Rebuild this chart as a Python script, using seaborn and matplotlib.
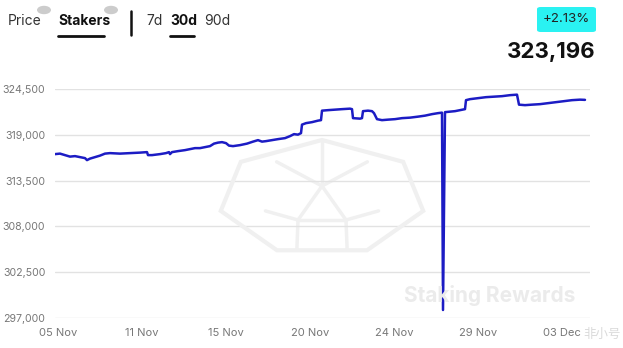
import numpy as np
import pandas as pd
import matplotlib
matplotlib.use("Agg")
import matplotlib.pyplot as plt
import seaborn as sns
from matplotlib.patches import FancyBboxPatch, RegularPolygon

# ---- data ----
position = [0, 5, 10, 15, 20, 25, 30, 32, 35, 40, 45, 50, 55, 65, 75, 85, 92, 93, 97, 105,
            111, 114, 115, 117, 123, 130, 135, 140, 145, 150, 155, 159, 163, 167, 171, 174, 178,
            185, 192, 198, 203, 207, 211, 217, 223, 230, 235, 239, 243, 246, 247, 251, 257, 263,
            266, 267, 273, 280, 287, 295, 297, 298, 305, 307, 308, 313, 317, 319, 322, 327, 333,
            340, 347, 355, 363, 370, 377, 383, 387, 388, 390, 395, 400, 405, 410, 411, 415, 423,
            431, 439, 447, 455, 462, 464, 470, 477, 485, 493, 501, 509, 517, 525, 530]
stakers = [316680, 316740, 316560, 316380, 316440, 316320, 316200, 315960, 316140, 316320,
           316500, 316740, 316800, 316740, 316800, 316860, 316920, 316560, 316560, 316680,
           316800, 316920, 316680, 316920, 317040, 317160, 317280, 317400, 317400, 317520,
           317640, 317940, 318060, 318120, 318000, 317700, 317640, 317760, 317940, 318180,
           318360, 318180, 318240, 318360, 318480, 318600, 318840, 319080, 319020, 319200,
           320220, 320400, 320520, 320700, 320760, 321900, 321960, 322020, 322080, 322140,
           322080, 321000, 320940, 321000, 321840, 321900, 321840, 321600, 320880, 320760,
           320820, 320880, 321000, 321060, 321180, 321300, 321480, 321600, 321660, 297960,
           321720, 321780, 321840, 321960, 322080, 323160, 323280, 323400, 323520, 323580,
           323640, 323760, 323820, 322620, 322560, 322620, 322680, 322800, 322920, 323040,
           323160, 323220, 323196]
tick_positions = [3, 87, 171, 255, 339, 423, 507]
tick_labels = ["05 Nov", "11 Nov", "15 Nov", "20 Nov", "24 Nov", "29 Nov", "03 Dec"]
y_ticks = [297000, 302500, 308000, 313500, 319000, 324500]
change_label = "+2.13%"
current_label = "323,196"

df = pd.DataFrame({"position": position, "stakers": stakers})

sns.set_theme(style="white")
plt.rcParams["font.family"] = ["Inter", "DejaVu Sans"]

W, H = 623, 348
fig = plt.figure(figsize=(W / 100, H / 100), dpi=100)
fig.patch.set_facecolor("white")

def fx(px):
    return px / W

def fy(py):
    return 1 - py / H

ax = fig.add_axes([fx(55), fy(318), fx(590) - fx(55), fy(89) - fy(318)])
ax.set_facecolor("none")

# faint watermark polyhedron in the centre
wm = "#f0f0f0"
cx, cy, r = 322, 198, 58
poly = RegularPolygon((fx(cx), fy(cy)), numVertices=7, radius=r / H, orientation=0,
                      transform=fig.transFigure, fill=False, edgecolor=wm, lw=3,
                      zorder=0)
fig.patches.append(poly)
angles = np.pi / 2 + np.arange(7) * 2 * np.pi / 7
vx = cx + r * np.cos(angles)
vy = cy - r * np.sin(angles)
inner = [(cx, cy - 12), (cx - 24, cy + 22), (cx + 24, cy + 22)]
links = [0, 0, 1, 1, 2, 2, 0]
for i in range(7):
    p = inner[links[i]]
    fig.add_artist(plt.Line2D([fx(vx[i]), fx(p[0])], [fy(vy[i]), fy(p[1])],
                              color=wm, lw=2.5, zorder=0))
for a in range(3):
    b = (a + 1) % 3
    fig.add_artist(plt.Line2D([fx(inner[a][0]), fx(inner[b][0])],
                              [fy(inner[a][1]), fy(inner[b][1])], color=wm, lw=2.5, zorder=0))
fig.text(fx(490), fy(296), "Staking Rewards", ha="center", va="center", fontsize=15,
         fontweight="bold", color="#ebebeb", zorder=0)

sns.lineplot(data=df, x="position", y="stakers", ax=ax, color="#1c1cc4", lw=1.8,
             zorder=3)

ax.set_xlim(0, 535)
ax.set_ylim(297000, 324500)
ax.set_yticks(y_ticks)
ax.set_yticklabels([f"{v:,}" for v in y_ticks])
ax.set_xticks(tick_positions)
ax.set_xticklabels(tick_labels)
ax.yaxis.grid(True, color="#e2e2e2", lw=1)
ax.xaxis.grid(False)
for s in ax.spines.values():
    s.set_visible(False)
ax.tick_params(axis="y", length=0, pad=7, labelsize=7.6, labelcolor="#777777")
ax.tick_params(axis="x", length=0, pad=7, labelsize=8, labelcolor="#777777")
ax.set_xlabel("")
ax.set_ylabel("")

# header tabs
fig.text(fx(8), fy(21), "Price", fontsize=10, color="#333333", va="center")
fig.text(fx(58), fy(21), "Stakers", fontsize=10, color="#111111", va="center",
         fontweight="bold")
for px in (44, 111):
    fig.patches.append(plt.Circle((fx(px), fy(10)), 3.5 / H, transform=fig.transFigure,
                                  color="#cccccc", zorder=2))
fig.add_artist(plt.Line2D([fx(58), fx(104)], [fy(36), fy(36)], color="#111111", lw=2))
fig.add_artist(plt.Line2D([fx(131), fx(131)], [fy(11), fy(35)], color="#111111", lw=1.8))
fig.text(fx(146), fy(21), "7d", fontsize=10, color="#333333", va="center")
fig.text(fx(170), fy(21), "30d", fontsize=10, color="#111111", va="center",
         fontweight="bold")
fig.add_artist(plt.Line2D([fx(170), fx(194)], [fy(36), fy(36)], color="#111111", lw=2))
fig.text(fx(204), fy(21), "90d", fontsize=10, color="#333333", va="center")

# change badge and current value
badge = FancyBboxPatch((fx(537), fy(32)), fx(596) - fx(537), (32 - 7) / H,
                       boxstyle="round,pad=0,rounding_size=0.006",
                       transform=fig.transFigure, facecolor="#2af2f2", edgecolor="none")
fig.patches.append(badge)
fig.text(fx(566.5), fy(19.5), change_label, fontsize=9.5, color="#222222",
         ha="center", va="center")
fig.text(fx(596), fy(52), current_label, fontsize=16, color="#111111", ha="right",
         va="center", fontweight="bold")

# bottom-right watermark
fig.text(fx(621), fy(334), "非小号", fontsize=9, color="#dadada", ha="right",
         va="center", family=["Noto Sans CJK SC", "DejaVu Sans"])

fig.savefig("out.png", dpi=100, facecolor="white")
